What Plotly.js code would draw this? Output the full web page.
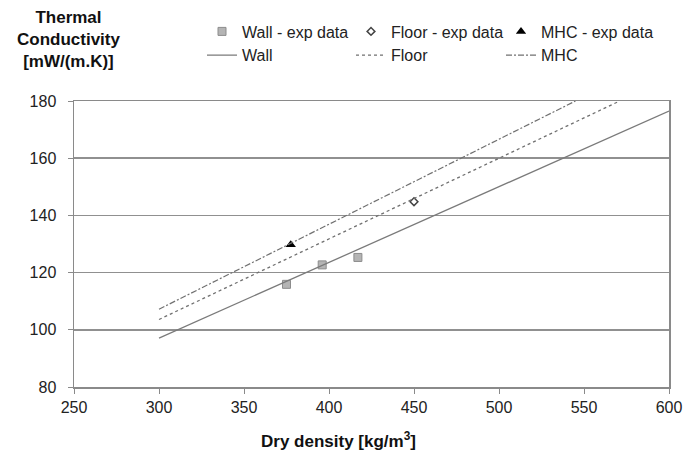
<!DOCTYPE html>
<html>
<head>
<meta charset="utf-8">
<script src="https://cdn.plot.ly/plotly-3.0.1.min.js"></script>
<style>html,body{margin:0;padding:0;background:#fff;}#chart{width:685px;height:456px;}</style>
</head>
<body>
<div id="chart"></div>
<script>
// Experimental data
const wallExpX = [375, 396, 417];
const wallExpY = [115.9, 122.7, 125.3];
const floorExpX = [450];
const floorExpY = [144.8];
const mhcExpX = [377.5];
const mhcExpY = [129.7];
// Model lines
const wallX = [300, 600];
const wallY = [97.1, 176.5];
const floorX = [300, 571];
const floorY = [103.6, 180];
const mhcX = [300, 545];
const mhcY = [107.2, 180];
// Axis ticks
const xTicks = [250, 300, 350, 400, 450, 500, 550, 600];
const yTicks = [80, 100, 120, 140, 160, 180];

const FONT = 'Liberation Sans, Arial, sans-serif';
const traces = [
  {x: wallExpX, y: wallExpY, name: 'Wall - exp data', mode: 'markers', type: 'scatter', legend: 'legend',
   marker: {symbol: 'square', size: 8, color: '#b4b4b4', line: {color: '#8c8c8c', width: 1}}},
  {x: floorExpX, y: floorExpY, name: 'Floor - exp data', mode: 'markers', type: 'scatter', legend: 'legend2',
   marker: {symbol: 'diamond', size: 6, color: '#ffffff', line: {color: '#444444', width: 1.5}}},
  {x: mhcExpX, y: mhcExpY, name: 'MHC - exp data', mode: 'markers', type: 'scatter', legend: 'legend3',
   marker: {symbol: 'triangle-up', size: 9, color: '#000000'}},
  {x: wallX, y: wallY, name: 'Wall', mode: 'lines', type: 'scatter', legend: 'legend',
   line: {color: '#7a7a7a', width: 1.3, dash: 'solid'}},
  {x: floorX, y: floorY, name: 'Floor', mode: 'lines', type: 'scatter', legend: 'legend2',
   line: {color: '#707070', width: 1.3, dash: 'dot'}},
  {x: mhcX, y: mhcY, name: 'MHC', mode: 'lines', type: 'scatter', legend: 'legend3',
   line: {color: '#707070', width: 1.2, dash: '6px,2px,2px,2px'}}
];

const legendCommon = {
  orientation: 'v', xref: 'container', yref: 'container', xanchor: 'left', yanchor: 'middle',
  y: 1 - 43.5/456, traceorder: 'normal', tracegroupgap: 0,
  font: {family: FONT, size: 16, color: '#222'},
  bgcolor: 'rgba(0,0,0,0)', borderwidth: 0, itemclick: false
};

const layout = {
  width: 685, height: 456,
  margin: {l: 74, r: 16, t: 101, b: 69, autoexpand: false},
  paper_bgcolor: '#ffffff', plot_bgcolor: '#ffffff',
  font: {family: FONT, size: 16, color: '#222'},
  showlegend: true,
  legend: Object.assign({}, legendCommon, {x: 202/685}),
  legend2: Object.assign({}, legendCommon, {x: 351/685}),
  legend3: Object.assign({}, legendCommon, {x: 501/685}),
  xaxis: {
    range: [250, 600], tickvals: xTicks, ticktext: xTicks.map(String), automargin: false,
    showgrid: false, zeroline: false, showline: true, linecolor: '#8a8a8a', linewidth: 1.5,
    mirror: true, ticks: 'outside', ticklen: 5, tickcolor: '#8a8a8a', tickwidth: 1,
    tickfont: {family: FONT, size: 16, color: '#222'}
  },
  yaxis: {
    range: [80, 180], tickvals: yTicks, ticktext: yTicks.map(String), automargin: false,
    showgrid: true, gridcolor: '#909090', gridwidth: 1.5, zeroline: false,
    showline: true, linecolor: '#8a8a8a', linewidth: 1.5, mirror: true,
    ticks: 'outside', ticklen: 5, tickcolor: '#8a8a8a', tickwidth: 1, ticklabelstandoff: 8,
    tickfont: {family: FONT, size: 16, color: '#222'}
  },
  annotations: [
    {text: '<b>Thermal<br>Conductivity<br>[mW/(m.K)]</b>', xref: 'paper', yref: 'paper',
     x: -0.01, y: (386.7 - 39) / 286, xanchor: 'center', yanchor: 'middle', showarrow: false,
     align: 'center', font: {family: FONT, size: 17, color: '#111'}},
    {text: '<b>Dry density [kg/m<sup>3</sup>]</b>', xref: 'paper', yref: 'paper',
     x: 0.444, y: -(440 - 386.7) / 286, xanchor: 'center', yanchor: 'middle', showarrow: false,
     font: {family: FONT, size: 17, color: '#111'}}
  ]
};

Plotly.newPlot('chart', traces, layout, {displayModeBar: false, staticPlot: true});
</script>
</body>
</html>
